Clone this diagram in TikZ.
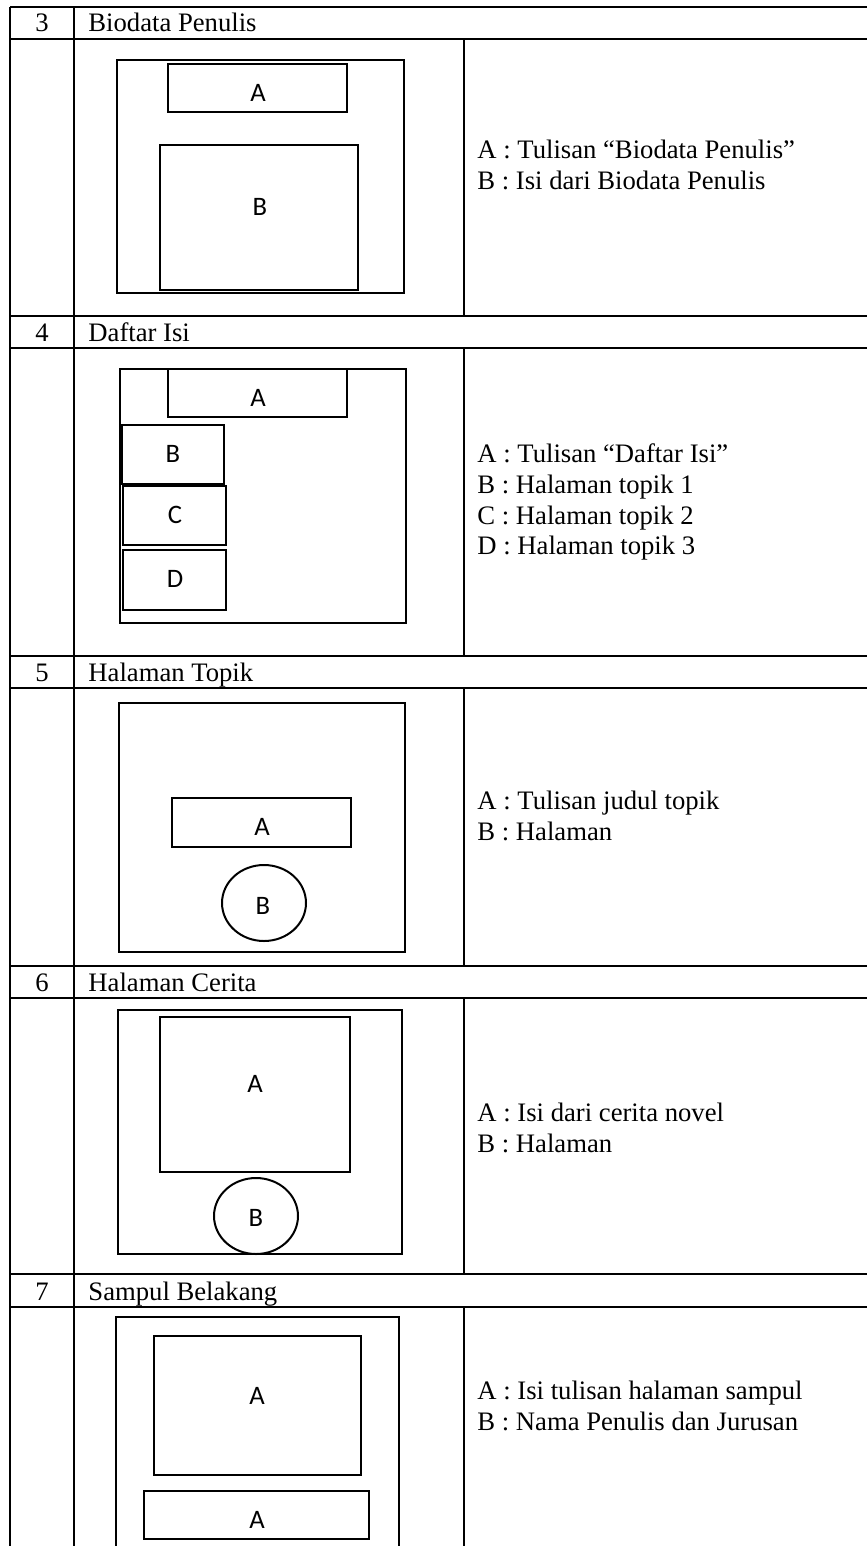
\documentclass[tikz,border=0pt]{standalone}
\usepackage{fontspec}
\setmainfont{Liberation Serif}
\newfontfamily\boxfont{Carlito}

\begin{document}
\begin{tikzpicture}[x=0.45pt, y=-0.45pt,
  rule/.style={line width=1pt},
  frame/.style={draw, line width=0.9pt},
  lab/.style={font={\boxfont\fontsize{12}{14}\selectfont}, inner sep=0pt},
  num/.style={anchor=base, font=\fontsize{12}{14}\selectfont, inner sep=0pt},
  head/.style={anchor=base west, font=\fontsize{12}{14}\selectfont, inner sep=0pt},
  desc/.style={anchor=west, align=left, font=\fontsize{12}{13.9}\selectfont, inner sep=0pt}]
\useasboundingbox (0,0) rectangle (867,1546);
% table rules
\draw[rule] (10,7) -- (10,1546);
\draw[rule] (74,7) -- (74,1546);
\foreach \y in {7,39,316,348,656,688,966,998,1274,1307}
  \draw[rule] (10,\y) -- (867,\y);
\foreach \a/\b in {39/316,348/656,688/966,998/1274,1307/1546}
  \draw[rule] (464,\a) -- (464,\b);
% row headers
\node[num] (n3) at (42,31) {3};
\node[head] (h3) at (88,31) {Biodata Penulis};
\node[num] (n4) at (42,341) {4};
\node[head] (h4) at (88,341) {Daftar Isi};
\node[num] (n5) at (42,681) {5};
\node[head] (h5) at (88,681) {Halaman Topik};
\node[num] (n6) at (42,991) {6};
\node[head] (h6) at (88,991) {Halaman Cerita};
\node[num] (n7) at (42,1300) {7};
\node[head] (h7) at (88,1300) {Sampul Belakang};
% 3: biodata
\draw[frame] (117,60) rectangle (404,293);
\draw[frame] (168,64) rectangle (347,112);
\draw[frame] (160,145) rectangle (358,290);
\node[lab] (bioA) at (258,93) {A};
\node[lab] (bioB) at (260,207) {B};
\node[desc] (bioD) at (477,165) {A : Tulisan “Biodata Penulis”\\B : Isi dari Biodata Penulis};
% 4: daftar isi
\draw[frame] (120,369) rectangle (406,623);
\draw[frame] (168,369) rectangle (347,417);
\draw[frame] (122,425) rectangle (224,484);
\draw[frame] (123,486) rectangle (226,545);
\draw[frame] (123,550) rectangle (226,610);
\node[lab] (isiA) at (258,398) {A};
\node[lab] (isiB) at (173,454) {B};
\node[lab] (isiC) at (175,515) {C};
\node[lab] (isiD) at (175,579) {D};
\node[desc] (isiDesc) at (477,502) {A : Tulisan “Daftar Isi”\\B : Halaman topik 1\\C : Halaman topik 2\\D : Halaman topik 3};
% 5: halaman topik
\draw[frame] (119,703) rectangle (405,952);
\draw[frame] (172,798) rectangle (351,847);
\draw[frame] (264,903) ellipse [x radius=42, y radius=38];
\node[lab] (topA) at (262,827) {A};
\node[lab] (topB) at (263,906) {B};
\node[desc] (topD) at (477,816) {A : Tulisan judul topik\\B : Halaman};
% 6: halaman cerita
\draw[frame] (118,1010) rectangle (402,1254);
\draw[frame] (160,1017) rectangle (350,1172);
\draw[frame] (256,1216) ellipse [x radius=42, y radius=38];
\node[lab] (cerA) at (255,1084) {A};
\node[lab] (cerB) at (256,1218) {B};
\node[desc] (cerD) at (477,1128) {A : Isi dari cerita novel\\B : Halaman};
% 7: sampul belakang
\draw[frame] (116,1546) -- (116,1317) -- (399,1317) -- (399,1546);
\draw[frame] (154,1336) rectangle (361,1475);
\draw[frame] (144,1491) rectangle (369,1539);
\node[lab] (samA) at (257,1396) {A};
\node[lab] (samB) at (257,1520) {A};
\node[desc] (samD) at (477,1406) {A : Isi tulisan halaman sampul\\B : Nama Penulis dan Jurusan};
\end{tikzpicture}
\end{document}
